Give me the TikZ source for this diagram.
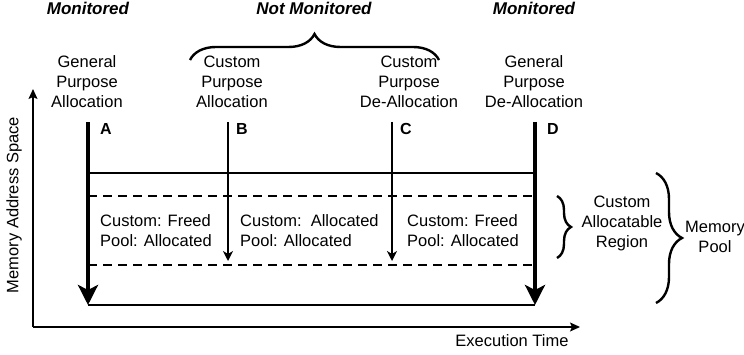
\documentclass[tikz,border=0pt]{standalone}
\usepackage{fontspec}
\setmainfont{Liberation Sans}
\usetikzlibrary{arrows.meta,decorations.pathreplacing}

\tikzset{
  lbl/.style={font=\fontsize{16.5}{20}\selectfont, align=center, inner sep=0pt},
  cell/.style={font=\fontsize{16.5}{20}\selectfont, align=left, inner sep=0pt, anchor=north west},
  zone/.style={font=\fontsize{17}{20}\selectfont\bfseries\itshape, inner sep=0pt, anchor=base},
  tag/.style={font=\fontsize{16}{18}\selectfont\bfseries, inner sep=0pt, anchor=base west},
  bigflow/.style={line width=3.8pt, -{Stealth[length=20pt,width=20pt,inset=5pt]}},
  smallflow/.style={line width=1.4pt, -{Stealth[length=10pt,width=10pt,inset=3pt]}},
  axis/.style={line width=1.4pt, -{Stealth[length=10pt,width=9pt,inset=2pt]}},
  bound/.style={line width=2.8pt},
  split/.style={line width=2.8pt, dash pattern=on 9pt off 6pt},
  brc/.style={line width=2.4pt, decorate, decoration={brace, amplitude=#1}},
}

\begin{document}
\begin{tikzpicture}[x=1pt, y=-1pt]
  \useasboundingbox (0,0) rectangle (744,355);

  % axes
  \coordinate (O) at (33,327);
  \coordinate (ytip) at (33,89);
  \coordinate (xtip) at (580,327);
  \draw[axis] (O) -- (ytip);
  \draw[axis] (O) -- (xtip);
  \node[lbl, rotate=90] (ylab) at (14,205) {Memory Address Space};
  \node[lbl] (xlab) at (512,341) {Execution Time};

  % event lines
  \coordinate (Atop) at (88,122);  \coordinate (Abot) at (88,305);
  \coordinate (Btop) at (228,122); \coordinate (Bbot) at (228,261);
  \coordinate (Ctop) at (392,122); \coordinate (Cbot) at (392,261);
  \coordinate (Dtop) at (535,122); \coordinate (Dbot) at (535,305);

  % pool boundaries
  \coordinate (PTl) at (88,173);  \coordinate (PTr) at (535,173);
  \coordinate (R1l) at (88,196);  \coordinate (R1r) at (535,196);
  \coordinate (R2l) at (88,265);  \coordinate (R2r) at (535,265);
  \draw[bound] (PTl) -- (PTr);
  \draw[bound] (Abot) -- (Dbot);
  \draw[split] (R1l) -- (R1r);
  \draw[split] (R2l) -- (R2r);

  \draw[bigflow] (Atop) -- (Abot);
  \draw[bigflow] (Dtop) -- (Dbot);
  \draw[smallflow] (Btop) -- (Bbot);
  \draw[smallflow] (Ctop) -- (Cbot);

  \node[tag] (tA) at (100,135) {A};
  \node[tag] (tB) at (236,135) {B};
  \node[tag] (tC) at (400,135) {C};
  \node[tag] (tD) at (547,135) {D};

  % event labels
  \node[lbl] (gpa) at (87,82) {General\\Purpose\\Allocation};
  \node[lbl] (cpa) at (232,82) {Custom\\Purpose\\Allocation};
  \node[lbl] (cpd) at (409,82) {Custom\\Purpose\\De-Allocation};
  \node[lbl] (gpd) at (534,82) {General\\Purpose\\De-Allocation};

  % monitoring zones
  \node[zone] (m1) at (88,15) {Monitored};
  \node[zone] (nm) at (314,15) {Not Monitored};
  \node[zone] (m2) at (534,15) {Monitored};
  \coordinate (nmL) at (190,60);
  \coordinate (nmR) at (439,60);
  \draw[brc=26pt] (nmL) -- (nmR);

  % region states
  \node[cell] (s1) at (100,214) {Custom: Freed\\Pool: Allocated};
  \node[cell] (s2) at (240,214) {Custom:\ \ Allocated\\Pool: Allocated};
  \node[cell] (s3) at (407,214) {Custom: Freed\\Pool: Allocated};

  % right-hand braces
  \coordinate (carT) at (557,196);
  \coordinate (carB) at (557,258);
  \draw[brc=14pt] (carT) -- (carB);
  \node[lbl] (car) at (622,223) {Custom\\Allocatable\\Region};

  \coordinate (mpT) at (656,173);
  \coordinate (mpB) at (656,303);
  \draw[brc=26pt] (mpT) -- (mpB);
  \node[lbl] (mp) at (715,237) {Memory\\Pool};
\end{tikzpicture}
\end{document}
